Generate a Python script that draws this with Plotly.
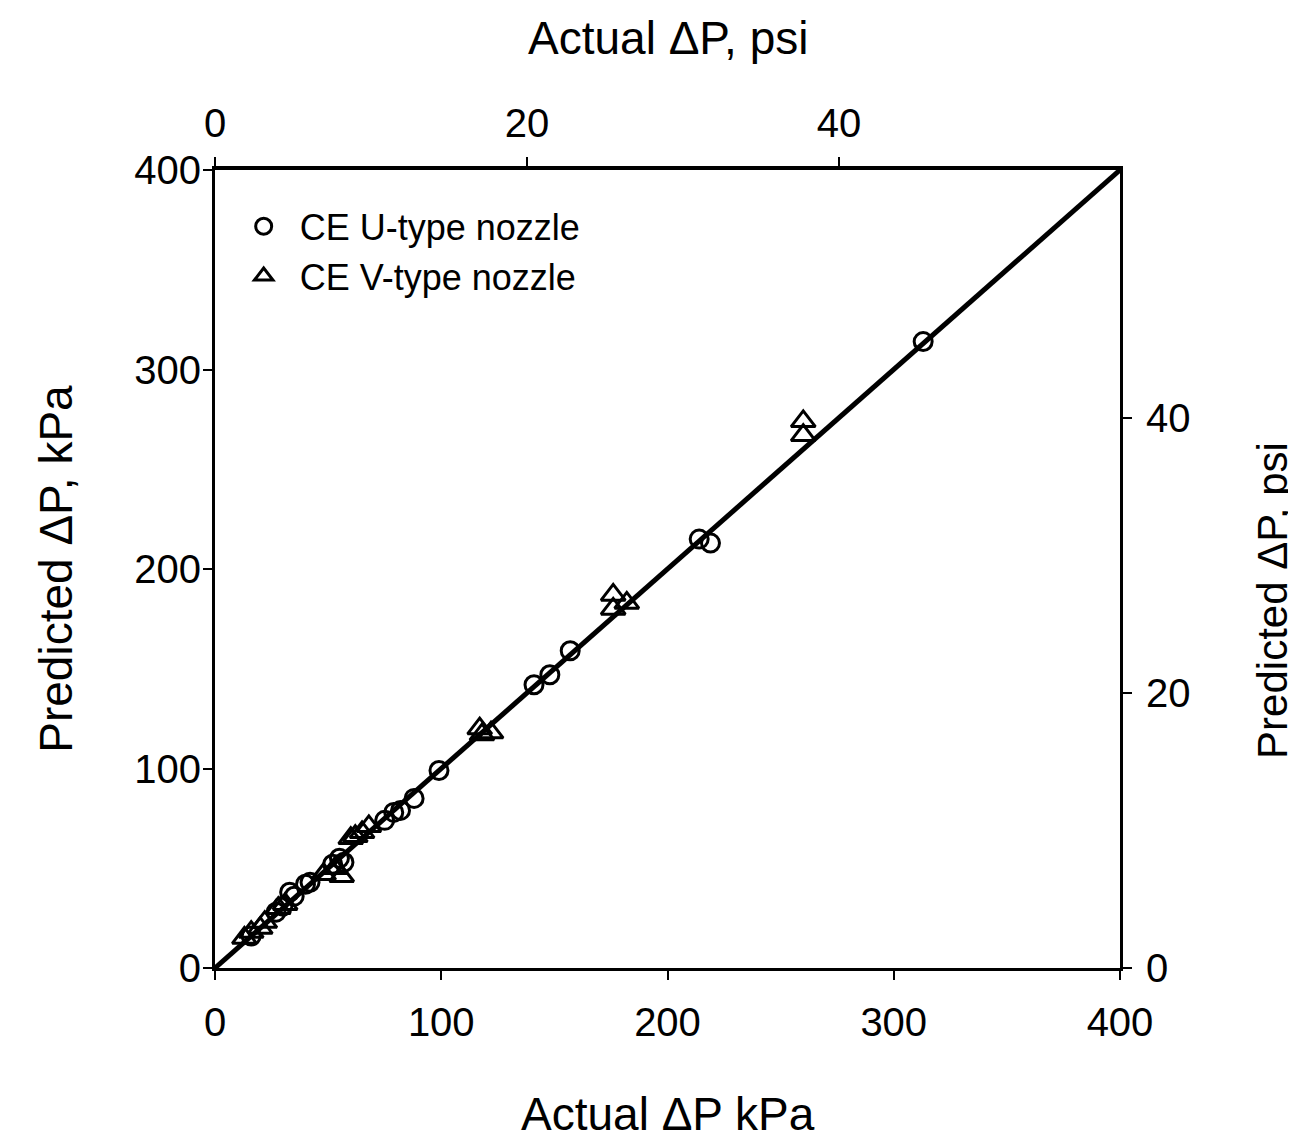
import plotly.graph_objects as go

# Data (kPa)
u_actual = [16, 27, 30, 33, 35, 40, 42, 52, 55, 57, 75, 79, 82, 88, 99, 141, 148, 157, 214, 219, 313]
u_pred = [16, 28, 31, 38, 36, 42, 43, 52, 55, 53, 74, 78, 79, 85, 99, 142, 147, 159, 215, 213, 314]

v_actual = [13, 16, 20, 22, 28, 31, 48, 53, 56, 60, 62, 65, 68, 117, 118, 122, 176, 176, 182, 260, 260]
v_pred = [15, 18, 20, 23, 30, 32, 47, 50, 46, 65, 66, 68, 71, 120, 117, 118, 187, 180, 183, 274, 267]

line_x = [0, 400]
line_y = [0, 400]

KPA_PER_PSI = 6.894757
x_ticks_kpa = [0, 100, 200, 300, 400]
y_ticks_kpa = [0, 100, 200, 300, 400]
psi_ticks = [0, 20, 40]

FONT = "Liberation Sans, Arial, Helvetica, sans-serif"

fig = go.Figure()
fig.add_trace(go.Scatter(x=line_x, y=line_y, mode="lines",
                         line=dict(color="black", width=5), showlegend=False,
                         hoverinfo="skip"))
fig.add_trace(go.Scatter(x=u_actual, y=u_pred, mode="markers", name="CE U-type nozzle",
                         marker=dict(symbol="circle-open", size=18, color="black",
                                     line=dict(width=3, color="black"))))
fig.add_trace(go.Scatter(x=v_actual, y=v_pred, mode="markers", name="CE V-type nozzle",
                         marker=dict(symbol="triangle-up-open", size=21, color="black",
                                     line=dict(width=3, color="black"))))
# invisible trace to activate psi axes
fig.add_trace(go.Scatter(x=[0], y=[0], xaxis="x2", yaxis="y2", mode="markers",
                         marker=dict(opacity=0), showlegend=False, hoverinfo="skip"))

psi_max = 400 / KPA_PER_PSI


def ax(**kw):
    d = dict(showgrid=False, zeroline=False, showline=True, linecolor="black",
             linewidth=3, ticks="outside", ticklen=9, tickwidth=2, tickcolor="black",
             tickfont=dict(family=FONT, size=40, color="black"))
    d.update(kw)
    return d


fig.update_layout(
    width=1296, height=1141,
    margin=dict(l=207, r=184, t=162, b=181),
    paper_bgcolor="white", plot_bgcolor="white",
    font=dict(family=FONT, color="black"),
    xaxis=ax(range=[0, 400], tickvals=x_ticks_kpa, ticktext=[str(v) for v in x_ticks_kpa],
             ticklabelstandoff=8),
    yaxis=ax(range=[0, 400], tickvals=y_ticks_kpa, ticktext=[str(v) for v in y_ticks_kpa],
             ticklabelstandoff=-6),
    xaxis2=ax(range=[0, psi_max], overlaying="x", side="top", anchor="y", linewidth=4,
              tickvals=psi_ticks, ticktext=[str(v) for v in psi_ticks], ticklabelstandoff=4),
    yaxis2=ax(range=[0, psi_max], overlaying="y", side="right", anchor="x",
              tickvals=psi_ticks, ticktext=[str(v) for v in psi_ticks], ticklabelstandoff=6),
    legend=dict(x=0.014, y=0.967, xanchor="left", yanchor="top",
                bgcolor="rgba(0,0,0,0)", font=dict(family=FONT, size=36, color="black"),
                itemwidth=62, tracegroupgap=0),
    showlegend=True,
)

annots = [
    dict(text="Actual ΔP kPa", x=0.5, y=-0.183, xref="paper", yref="paper",
         xanchor="center", yanchor="middle", showarrow=False, font=dict(size=46)),
    dict(text="Actual ΔP, psi", x=0.5, y=1.165, xref="paper", yref="paper",
         xanchor="center", yanchor="middle", showarrow=False, font=dict(size=46)),
    dict(text="Predicted ΔP, kPa", x=-0.176, y=0.5, xref="paper", yref="paper",
         xanchor="center", yanchor="middle", showarrow=False, textangle=-90, font=dict(size=46)),
    dict(text="Predicted ΔP, psi", x=(1273 - 215) / 905, y=0.46, xref="paper", yref="paper",
         xanchor="center", yanchor="middle", showarrow=False, textangle=-90, font=dict(size=42)),
]
fig.update_layout(annotations=annots)

fig.write_html("out.html")
